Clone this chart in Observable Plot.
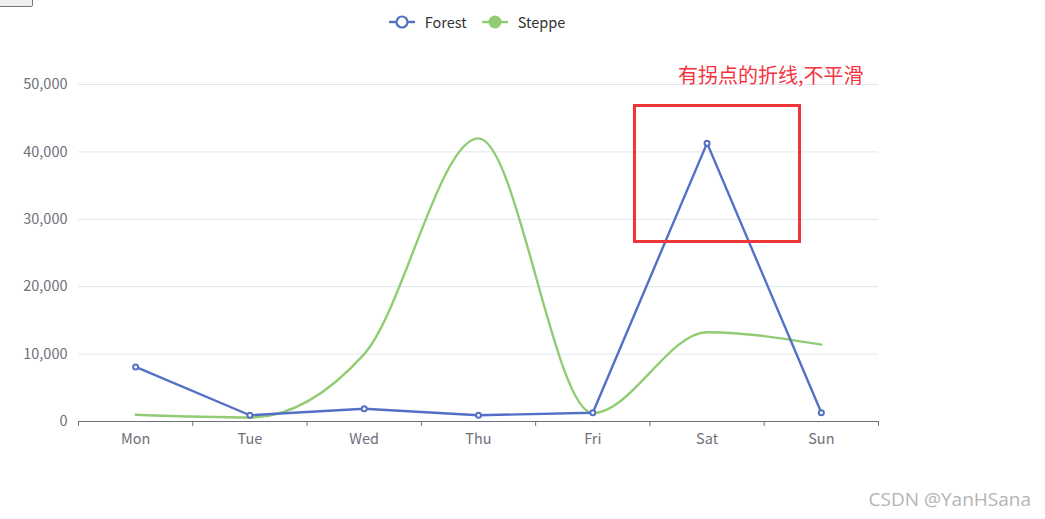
<!DOCTYPE html>
<html>
<head>
<meta charset="utf-8">
<script src="https://cdn.jsdelivr.net/npm/d3@7"></script>
<script src="https://cdn.jsdelivr.net/npm/@observablehq/plot@0.6"></script>
<style>
  html, body { margin: 0; padding: 0; background: #fff; overflow: hidden; }
  body { width: 1045px; height: 519px; position: relative; font-family: "Microsoft YaHei", "Noto Sans CJK SC", "Noto Sans", sans-serif; }
  #chart { position: absolute; left: 0; top: 0; }
  #legend { position: absolute; top: 11px; left: 377px; width: 200px; display: flex; justify-content: center; gap: 15px; font-size: 14.5px; color: #333; }
  #legend .item { display: flex; align-items: center; gap: 10px; }
  #btn { position: absolute; left: -2px; top: -14px; width: 35px; height: 21px; border: 1px solid #767676; border-radius: 2px; background: #efefef; box-sizing: border-box; }
  #note { position: absolute; left: 678px; top: 60px; font-size: 20px; color: #f5333f; white-space: nowrap; }
  #box { position: absolute; left: 633px; top: 104px; width: 168px; height: 139px; border: 3px solid #f03538; box-sizing: border-box; }
  #mark { position: absolute; right: 14px; top: 486px; font-size: 19px; color: #b4b4b4; font-family: "Open Sans", "Noto Sans", sans-serif; }
</style>
</head>
<body>
<div id="btn"></div>
<div id="legend"></div>
<div id="chart"></div>
<div id="note">有拐点的折线,不平滑</div>
<div id="box"></div>
<div id="mark">CSDN @YanHSana</div>
<script>
const days = ["Mon", "Tue", "Wed", "Thu", "Fri", "Sat", "Sun"];
const forest = [8100, 930, 1900, 930, 1290, 41300, 1290];
const steppe = [1000, 600, 10000, 42000, 1250, 13250, 11400];
const seriesNames = ["Forest", "Steppe"];
const seriesColors = ["#5470c6", "#91cc75"];
const yTicks = [0, 10000, 20000, 30000, 40000, 50000];

const rows = (vals) => vals.map((v, i) => ({i, day: days[i], v}));
const forestRows = rows(forest);
const steppeRows = rows(steppe);
const boundaries = d3.range(days.length + 1).map(i => i - 0.5);

const labelColor = "#6e7079";

const chart = Plot.plot({
  width: 1045,
  height: 519,
  marginTop: 84,
  marginBottom: 98,
  marginLeft: 78,
  marginRight: 167,
  style: {fontFamily: "'Microsoft YaHei', 'Noto Sans CJK SC', 'Noto Sans', sans-serif", fontSize: "14px", color: labelColor, background: "transparent"},
  x: {type: "linear", domain: [-0.5, days.length - 0.5]},
  y: {domain: [0, 50000]},
  marks: [
    Plot.gridY(yTicks.filter(t => t > 0), {stroke: "#e0e6f1", strokeOpacity: 1, strokeWidth: 1}),
    Plot.axisY({ticks: yTicks, tickSize: 0, tickPadding: 11, tickFormat: d3.format(","), label: null, fill: labelColor, fontSize: 14.5}),
    Plot.ruleY([0], {stroke: labelColor, strokeWidth: 1}),
    Plot.axisX({ticks: boundaries, tickSize: 5, tickFormat: () => "", label: null, stroke: labelColor}),
    Plot.axisX({ticks: d3.range(days.length), tickSize: 0, tickPadding: 12, tickFormat: i => days[i], label: null, fill: labelColor, fontSize: 14.5}),
    Plot.line(steppeRows, {x: "i", y: "v", stroke: seriesColors[1], strokeWidth: 2.4, curve: "monotone-x"}),
    Plot.line(forestRows, {x: "i", y: "v", stroke: seriesColors[0], strokeWidth: 2.4, curve: "linear"}),
    Plot.dot(forestRows, {x: "i", y: "v", r: 2.5, fill: "#fff", stroke: seriesColors[0], strokeWidth: 2})
  ]
});
document.getElementById("chart").appendChild(chart);

const legend = document.getElementById("legend");
seriesNames.forEach((name, k) => {
  const item = document.createElement("div");
  item.className = "item";
  const c = seriesColors[k];
  const hollow = k === 0;
  item.innerHTML = `<svg width="26" height="16"><line x1="0" y1="8" x2="26" y2="8" stroke="${c}" stroke-width="2.4"/>` +
    `<circle cx="13" cy="8" r="${hollow ? 5.5 : 6.5}" fill="${hollow ? "#fff" : c}" stroke="${c}" stroke-width="${hollow ? 2.2 : 0}"/></svg><span>${name}</span>`;
  legend.appendChild(item);
});
</script>
</body>
</html>
